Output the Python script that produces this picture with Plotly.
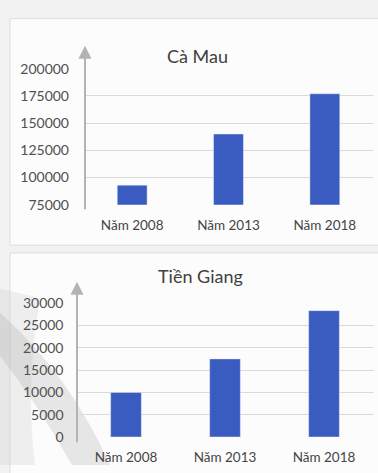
import plotly.graph_objects as go

# Data
years = ["Năm 2008", "Năm 2013", "Năm 2018"]
ca_mau = [93000, 140000, 177000]
tien_giang = [10000, 17500, 28300]
ca_mau_ticks = [75000, 100000, 125000, 150000, 175000, 200000]
tien_giang_ticks = [0, 5000, 10000, 15000, 20000, 25000, 30000]

W, H = 378, 473
BAR = "#3a5bbf"
GRID = "#dadada"
TXT = "#505050"
FONT = "Lato"


def px(x):
    return x / W


def py(y):
    return 1 - y / H


fig = go.Figure()
fig.add_trace(go.Bar(x=years, y=ca_mau, marker_color=BAR, xaxis="x", yaxis="y"))
fig.add_trace(go.Bar(x=years, y=tien_giang, marker_color=BAR, xaxis="x2", yaxis="y2"))

axis_common = dict(showline=False, zeroline=False, fixedrange=True)

fig.update_layout(
    width=W, height=H,
    margin=dict(l=0, r=0, t=0, b=0),
    paper_bgcolor="#f2f2f2",
    plot_bgcolor="rgba(0,0,0,0)",
    showlegend=False,
    bargap=0.69,
    font=dict(family=FONT, color=TXT),
    xaxis=dict(domain=[px(84), px(373)], anchor="y", showgrid=False,
               tickfont=dict(size=13.5, color="#454545"), ticks="outside",
               ticklen=8, tickcolor="rgba(0,0,0,0)", **axis_common),
    yaxis=dict(domain=[py(203), py(62)], anchor="x", range=[75000, 200000],
               tickvals=ca_mau_ticks, ticktext=[str(v) for v in ca_mau_ticks],
               showgrid=True, gridcolor=GRID, gridwidth=1,
               tickfont=dict(size=14, color=TXT), ticklabelstandoff=14,
               **axis_common),
    xaxis2=dict(domain=[px(76.5), px(373.5)], anchor="y2", showgrid=False,
                tickfont=dict(size=13.5, color="#454545"), ticks="outside",
                ticklen=8, tickcolor="rgba(0,0,0,0)", **axis_common),
    yaxis2=dict(domain=[py(444), py(305)], anchor="x2", range=[0, 30000],
                tickvals=tien_giang_ticks,
                ticktext=[str(v) for v in tien_giang_ticks],
                showgrid=True, gridcolor=GRID, gridwidth=1,
                tickfont=dict(size=14, color=TXT), ticklabelstandoff=12,
                **axis_common),
)

shapes = [
    # chart panels
    dict(type="rect", xref="paper", yref="paper",
         x0=px(10), x1=px(400), y0=py(245), y1=py(10),
         fillcolor="rgba(252,252,252,1)", line=dict(color="#dedede", width=1),
         layer="below"),
    dict(type="rect", xref="paper", yref="paper",
         x0=px(10), x1=px(400), y0=py(490), y1=py(253),
         fillcolor="rgba(252,252,252,1)", line=dict(color="#dedede", width=1),
         layer="below"),
    # watermark: soft grey wedge along the left edge of the lower panel
    dict(type="path", xref="paper", yref="paper",
         path=f"M {px(0)} {py(290)} L {px(40)} {py(300)} "
              f"Q {px(25)} {py(390)} {px(35)} {py(473)} L {px(0)} {py(473)} Z",
         fillcolor="rgba(190,190,190,0.22)", line=dict(width=0), layer="below"),
    # watermark: curved band crossing the lower panel
    dict(type="path", xref="paper", yref="paper",
         path=f"M {px(0)} {py(315)} Q {px(70)} {py(380)} {px(110)} {py(473)} "
              f"L {px(72)} {py(473)} Q {px(38)} {py(410)} {px(0)} {py(360)} Z",
         fillcolor="rgba(165,165,165,0.25)", line=dict(width=0), layer="below"),
]
fig.update_layout(shapes=shapes)

annotations = [
    dict(text="Cà Mau", x=px(197), y=py(35), xref="paper", yref="paper",
         showarrow=False, font=dict(size=18, color="#404040")),
    dict(text="Tiền Giang", x=px(200), y=py(277), xref="paper", yref="paper",
         showarrow=False, font=dict(size=18, color="#404040")),
    # vertical axis arrows
    dict(text="", x=px(85), y=py(38), xref="paper", yref="paper",
         showarrow=True, ax=0, ay=165, arrowhead=2, arrowsize=1.3,
         arrowwidth=2, arrowcolor="#b3b3b3"),
    dict(text="", x=px(77), y=py(283), xref="paper", yref="paper",
         showarrow=True, ax=0, ay=162, arrowhead=2, arrowsize=1.3,
         arrowwidth=2, arrowcolor="#b3b3b3"),
]
fig.update_layout(annotations=annotations)

fig.write_html("out.html")
